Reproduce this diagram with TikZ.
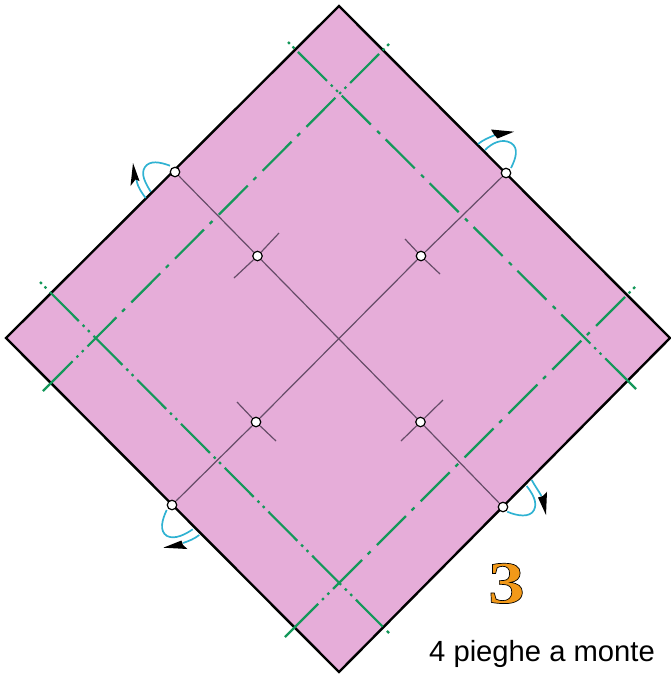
\documentclass[tikz,border=0pt]{standalone}
\usepackage{fontspec}
\setmainfont{Liberation Sans}
\newfontfamily\numfont{Liberation Serif}[FakeStretch=1.22]
\definecolor{paper}{HTML}{E6ADD9}
\definecolor{foldgreen}{HTML}{14985A}
\definecolor{creasepurple}{HTML}{664C68}
\definecolor{turnblue}{HTML}{2FB2D2}
\def\Sd{on 41pt off 9pt on 4pt off 8pt }
\def\Td{on 41pt off 5.5pt on 2.5pt off 5pt on 2.5pt off 5.5pt }
\def\Ed{on 2.5pt off 4pt on 2.5pt off 5pt }
\tikzset{
  sheet/.style={draw=black,line width=2.4pt,fill=paper,line join=miter},
  valley/.style={draw=foldgreen,line width=2.2pt},
  crease/.style={draw=creasepurple,line width=1.2pt},
  turn/.style={draw=turnblue,line width=1.7pt},
  headtip/.style={fill=black,draw=none},
  pin/.style={circle,draw=black,fill=white,line width=1.2pt,minimum size=9.5pt,inner sep=0pt,outer sep=1pt}
}
\begin{document}
\begin{tikzpicture}[x=1pt,y=-1pt]
\useasboundingbox (0,0) rectangle (671,675);
\draw[sheet] (339,6) -- (670,338) -- (339,672) -- (6,338) -- cycle;
% valley folds
\draw[valley,dash pattern/.expanded={\Ed\Td\Sd\Sd\Sd\Sd\Sd\Td on 60pt off 10pt}] (288,42) -- (636,389);
\draw[valley,dash pattern/.expanded={\Ed\Td\Sd\Sd\Sd\Sd\Sd\Td on 60pt off 10pt}] (389,44) -- (43,391);
\draw[valley,dash pattern/.expanded={\Ed\Sd\Sd\Sd\Sd\Sd\Sd\Td on 60pt off 10pt}] (635,287) -- (285,637);
\draw[valley,dash pattern/.expanded={\Ed\Td\Td\Td\Td\Td\Td\Td on 38pt off 6pt on 3pt off 9pt}] (40,282) -- (393,637);
% creases
\node[pin] (a) at (175,172) {};
\node[pin] (b) at (257.5,256) {};
\node[pin] (c) at (420.5,422) {};
\node[pin] (d) at (503,507) {};
\node[pin] (e) at (506,173) {};
\node[pin] (f) at (421,256) {};
\node[pin] (g) at (256,422) {};
\node[pin] (h) at (172,505) {};
\draw[crease] (a) -- (b);
\draw[crease] (b) -- (c);
\draw[crease] (c) -- (d);
\draw[crease] (e) -- (f);
\draw[crease] (f) -- (g);
\draw[crease] (g) -- (h);
\coordinate (b1) at (279,233); \coordinate (b2) at (234,278);
\coordinate (f1) at (405,239); \coordinate (f2) at (440,274);
\coordinate (g1) at (237,402); \coordinate (g2) at (276,441);
\coordinate (c1) at (443,400); \coordinate (c2) at (401,441);
\draw[crease] (b1) -- (b);
\draw[crease] (b) -- (b2);
\draw[crease] (f1) -- (f);
\draw[crease] (f) -- (f2);
\draw[crease] (g1) -- (g);
\draw[crease] (g) -- (g2);
\draw[crease] (c1) -- (c);
\draw[crease] (c) -- (c2);
% turn-over arrows
\draw[turn] (170,165.7) .. controls (160,162) and (150,160) .. (145,167) .. controls (140,174) and (146,184) .. (150.7,191.7);
\draw[turn] (145.7,198) .. controls (142,193) and (138,188) .. (136.5,180);
\fill[headtip] (133,163) -- (139.5,181) -- (135.5,179.5) -- (130.5,186) -- cycle;
\draw[turn] (511,168) .. controls (516,158) and (519,148) .. (511,143) .. controls (502,138) and (492,143) .. (485,150);
\draw[turn] (478,144) .. controls (483,140) and (488,138) .. (495,135);
\fill[headtip] (514,131.7) -- (491,129.5) -- (494,134.5) -- (497.5,138.5) -- cycle;
\draw[turn] (166.7,510) .. controls (162,520) and (159,531) .. (167,536) .. controls (175,540) and (186,534) .. (192.7,529.3);
\draw[turn] (199.3,535) .. controls (194,539) and (189,541) .. (183,543);
\fill[headtip] (163.3,547.7) -- (181.5,540.5) -- (183,545) -- (187.5,549) -- cycle;
\draw[turn] (507.3,511.7) .. controls (517,516) and (530,518) .. (534,510) .. controls (538,502) and (532,493) .. (526.7,486);
\draw[turn] (531.7,480) .. controls (535,486) and (538,490) .. (541.5,496);
\fill[headtip] (546,515) -- (538,497.5) -- (543,496) -- (547,491.7) -- cycle;
% labels
\node[anchor=base,inner sep=0pt,text=black] (num) at (506.5,603) {\numfont\fontsize{60}{60}\selectfont\bfseries\special{pdf:code q 2 Tr 0.7 w 0 0 0 RG 0.95 0.6 0.1 rg}3\special{pdf:code Q}};
\node[anchor=base west,inner sep=0pt,text=black] (cap) at (429,661.5) {\fontsize{29.2}{30}\selectfont 4 pieghe a monte};
\end{tikzpicture}
\end{document}
